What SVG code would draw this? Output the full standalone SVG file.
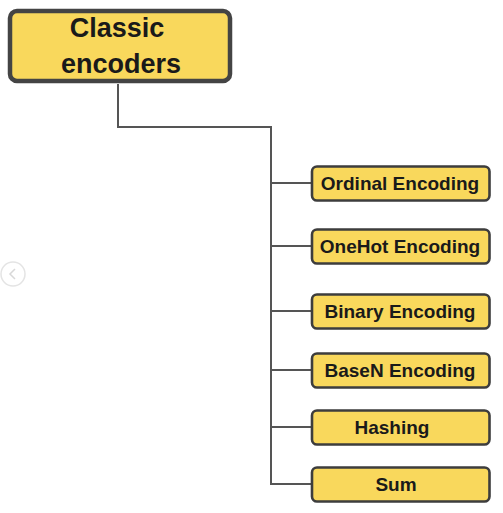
<svg xmlns="http://www.w3.org/2000/svg" width="503" height="513" viewBox="0 0 503 513">
<style>
.box{fill:#f9d85c;stroke:#3d3d3d;stroke-width:2.6}
.root{fill:#f9d85c;stroke:#444;stroke-width:4.5}
.t{font-family:"Liberation Sans",Arial,sans-serif;font-weight:bold;fill:#1a1a1a;text-anchor:middle}
.c{fill:none;stroke:#555;stroke-width:2}
</style>
<rect width="503" height="513" fill="#fff"/>
<g id="nav">
<circle cx="13" cy="274" r="12" fill="none" stroke="#e4e4e4" stroke-width="1.5"/>
<polyline points="15,269 10,274 15,279" fill="none" stroke="#d8d8d8" stroke-width="1.5"/>
</g>
<g id="connectors">
<polyline class="c" points="118,84 118,127 271,127 271,484 311,484"/>
<line class="c" x1="271" y1="183" x2="311" y2="183"/>
<line class="c" x1="271" y1="246" x2="311" y2="246"/>
<line class="c" x1="271" y1="311" x2="311" y2="311"/>
<line class="c" x1="271" y1="370" x2="311" y2="370"/>
<line class="c" x1="271" y1="427" x2="311" y2="427"/>
</g>
<g id="root">
<rect class="root" x="10" y="11" width="220" height="70" rx="7"/>
<text class="t" x="117" y="37" font-size="27">Classic</text>
<text class="t" x="121" y="73" font-size="27">encoders</text>
</g>
<g id="ordinal">
<rect class="box" x="312" y="166.5" width="177.5" height="34" rx="5"/>
<text class="t" x="400" y="190" font-size="19">Ordinal Encoding</text>
</g>
<g id="onehot">
<rect class="box" x="312" y="229.5" width="177.5" height="34" rx="5"/>
<text class="t" x="400" y="253" font-size="19">OneHot Encoding</text>
</g>
<g id="binary">
<rect class="box" x="312" y="294.5" width="177.5" height="34" rx="5"/>
<text class="t" x="400" y="318" font-size="19">Binary Encoding</text>
</g>
<g id="basen">
<rect class="box" x="312" y="353.5" width="177.5" height="34" rx="5"/>
<text class="t" x="400" y="377" font-size="19">BaseN Encoding</text>
</g>
<g id="hashing">
<rect class="box" x="312" y="410.5" width="177.5" height="34" rx="5"/>
<text class="t" x="392" y="434" font-size="19">Hashing</text>
</g>
<g id="sum">
<rect class="box" x="312" y="467.5" width="177.5" height="34" rx="5"/>
<text class="t" x="396" y="491" font-size="19">Sum</text>
</g>
</svg>
